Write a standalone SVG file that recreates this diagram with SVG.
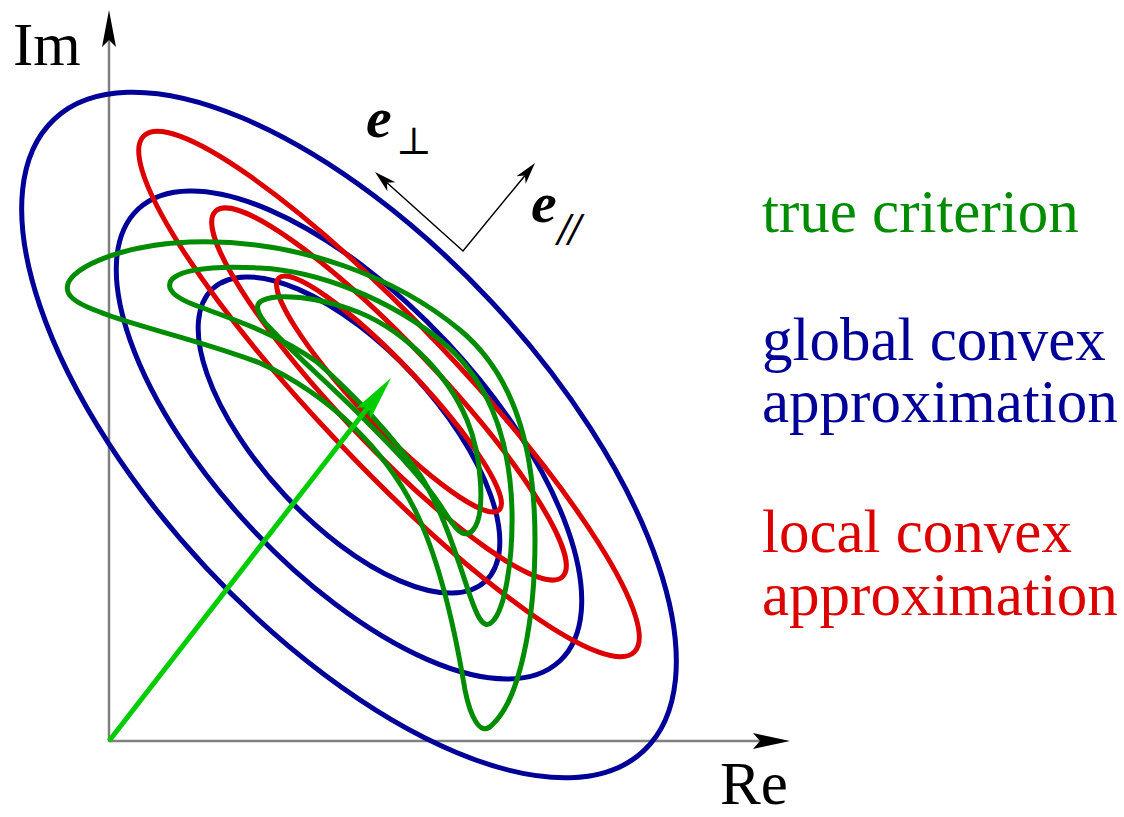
<svg xmlns="http://www.w3.org/2000/svg" width="1124" height="817" viewBox="0 0 1124 817">
<style>
.lbl{font-family:"Liberation Serif","Times New Roman",serif;font-size:61px}
.blue{fill:none;stroke:#000099;stroke-width:5}
.red{fill:none;stroke:#dd0000;stroke-width:5}
.grn{fill:none;stroke:#008c00;stroke-width:5;stroke-linejoin:round}
.axis{stroke:#808080;stroke-width:2.5;fill:none}
.vec{stroke:#000;stroke-width:1.5;fill:none}
.head{fill:#000;stroke:none}
.ev{font-family:"Liberation Serif","Times New Roman",serif;font-weight:bold;font-style:italic;font-size:58px}
.sub{font-family:"DejaVu Serif","Liberation Serif",serif;font-size:38px}
</style>
<rect width="1124" height="817" fill="#fff"/>
<g id="axes">
<line class="axis" x1="109" y1="742" x2="109" y2="40"/>
<line class="axis" x1="109" y1="741" x2="760" y2="741"/>
<path class="head" d="M109,10 L116,47 L109,40 L102,47 Z"/>
<path class="head" d="M790,741 L753,749 L760,741 L753,733 Z"/>
<text class="lbl" x="13" y="65">Im</text>
<text class="lbl" x="720" y="804">Re</text>
</g>
<g id="global-convex">
<ellipse class="blue" cx="349" cy="435" rx="432" ry="195" transform="rotate(47 349 435)"/>
<ellipse class="blue" cx="349" cy="435" rx="309" ry="135" transform="rotate(47 349 435)"/>
<ellipse class="blue" cx="349" cy="435" rx="200" ry="88" transform="rotate(47 349 435)"/>
</g>
<g id="local-convex">
<ellipse class="red" cx="389" cy="394" rx="356" ry="70" transform="rotate(46.5 389 394)"/>
<ellipse class="red" cx="389" cy="394" rx="252" ry="50" transform="rotate(46.5 389 394)"/>
<ellipse class="red" cx="389" cy="394" rx="160" ry="31" transform="rotate(46.5 389 394)"/>
</g>
<g id="true-criterion">
<path class="grn" d="M68,292 C60,270 120,245 190,242 C300,238 400,280 460,330 C520,380 535,460 535,540 C535,620 520,700 492,725 C480,738 470,715 465,690 C455,630 440,560 415,510 C385,450 330,395 260,363 C200,340 130,325 100,312 C80,305 70,298 68,292 Z"/>
<path class="grn" d="M170,288 C165,270 210,265 260,268 C320,271 390,300 440,340 C490,380 510,440 512,510 C513,560 505,610 492,622 C482,632 475,610 468,590 C455,550 440,505 420,475 C395,440 360,400 317,362 C280,335 230,318 200,307 C180,300 172,294 170,288 Z"/>
<path class="grn" d="M258,310 C252,293 300,292 350,309 C400,326 447,372 467,420 C482,456 486,515 473,530 C462,543 450,520 440,505 C420,475 390,445 360,415 C330,385 290,350 270,328 C262,320 259,314 258,310 Z"/>
</g>
<g id="vector">
<line x1="109" y1="741" x2="369" y2="406" stroke="#00cc00" stroke-width="5"/>
<path d="M391,378 L370.5,419 L369,406.4 L356.3,408 Z" fill="#00cc00"/>
</g>
<g id="basis">
<polyline class="vec" points="387,182.7 463,251 525,175.4"/>
<path class="head" d="M375,172 L395.4,182.2 L386.9,182.7 L387.4,191.2 Z"/>
<path class="head" d="M535,163 L525.7,183.8 L524.9,175.4 L516.5,176.2 Z"/>
<text class="ev" x="366" y="137">e</text>
<text class="sub" x="396" y="154">⊥</text>
<text class="ev" x="531" y="222">e</text>
<text class="sub" x="558" y="241" font-style="italic" letter-spacing="-2">//</text>
</g>
<g id="legend">
<text class="lbl" x="762" y="232" fill="#008c00">true criterion</text>
<text class="lbl" x="762" y="360" fill="#000099">global convex</text>
<text class="lbl" x="762" y="422" fill="#000099">approximation</text>
<text class="lbl" x="762" y="552" fill="#dd0000">local convex</text>
<text class="lbl" x="762" y="615" fill="#dd0000">approximation</text>
</g>
</svg>
